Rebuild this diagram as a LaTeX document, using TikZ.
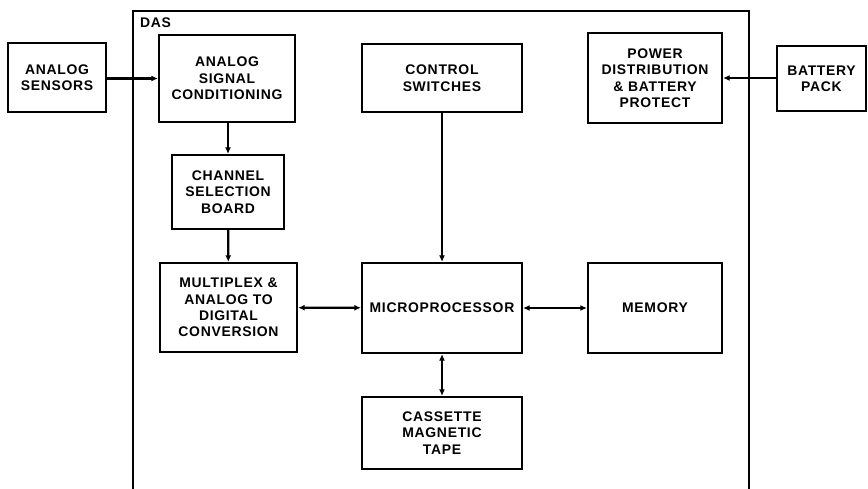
\documentclass[tikz,border=0pt]{standalone}
\usepackage{fontspec}
\setmainfont{Liberation Sans}[LetterSpace=5]
\usetikzlibrary{arrows.meta}
\tikzset{
  blk/.style={draw, line width=2.3bp, inner sep=0pt, align=center,
    font=\bfseries\fontsize{14}{16.5}\selectfont},
  conn/.style={line width=2.3bp},
  >={Latex[length=6.5bp,width=6bp]}
}
\begin{document}
\begin{tikzpicture}[x=1bp,y=-1bp]
\useasboundingbox (0,0) rectangle (868,489);
% DAS enclosure (open at bottom)
\draw[line width=2.6bp] (133,489) -- (133,11) -- (749,11) -- (749,489);
\node[anchor=north west, font=\bfseries\fontsize{14}{16.5}\selectfont, inner sep=0pt] (das) at (140,17.5) {DAS};
% blocks
\node[blk, minimum width=98bp, minimum height=69bp] (sens) at (57,77.5) {ANALOG\\SENSORS};
\node[blk, minimum width=136bp, minimum height=87bp] (asc) at (227,78.5) {ANALOG\\SIGNAL\\CONDITIONING};
\node[blk, minimum width=112bp, minimum height=74bp] (chan) at (228,192) {CHANNEL\\SELECTION\\BOARD};
\node[blk, minimum width=137bp, minimum height=89bp] (mux) at (228.5,307.5) {MULTIPLEX \&\\ANALOG TO\\DIGITAL\\CONVERSION};
\node[blk, minimum width=160bp, minimum height=68bp] (ctrl) at (442,78) {CONTROL\\SWITCHES};
\node[blk, minimum width=134bp, minimum height=90bp] (pwr) at (655,78) {POWER\\DISTRIBUTION\\\& BATTERY\\PROTECT};
\node[blk, minimum width=89bp, minimum height=65bp] (batt) at (821.5,78.5) {BATTERY\\PACK};
\node[blk, minimum width=160bp, minimum height=90bp] (micro) at (442,308) {MICROPROCESSOR};
\node[blk, minimum width=134bp, minimum height=90bp] (mem) at (655,308) {MEMORY};
\node[blk, minimum width=160bp, minimum height=72bp] (cass) at (442,433) {CASSETTE\\MAGNETIC\\TAPE};
% connectors
\draw[conn,->] (sens.east |- asc.west) -- (asc.west);
\draw[conn,->] (asc.south -| chan.north) -- (chan.north);
\draw[conn,->] (chan) -- (mux);
\draw[conn,<->] (mux) -- (micro);
\draw[conn,->] (ctrl) -- (micro);
\draw[conn,<->] (micro) -- (mem);
\draw[conn,<->] (micro) -- (cass);
\draw[conn,->] (batt.west |- pwr.east) -- (pwr.east);
\end{tikzpicture}
\end{document}
